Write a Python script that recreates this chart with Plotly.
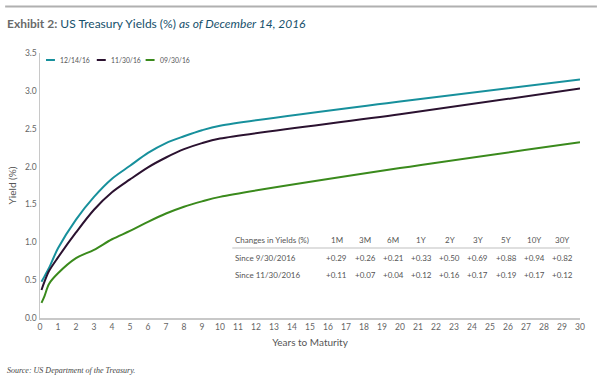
import plotly.graph_objects as go

# ---- data ----
maturity_years = [1/12, 0.25, 0.5, 1, 2, 3, 4, 5, 6, 7, 8, 9, 10, 20, 30]
yields_121416 = [0.48, 0.55, 0.66, 0.92, 1.30, 1.60, 1.84, 2.01, 2.18, 2.31, 2.40, 2.48, 2.54, 2.86, 3.15]
yields_113016 = [0.37, 0.48, 0.62, 0.80, 1.13, 1.43, 1.66, 1.83, 1.99, 2.12, 2.23, 2.31, 2.37, 2.69, 3.03]
yields_093016 = [0.20, 0.29, 0.45, 0.59, 0.79, 0.90, 1.04, 1.15, 1.27, 1.38, 1.47, 1.54, 1.60, 1.98, 2.32]

series_names = ["12/14/16", "11/30/16", "09/30/16"]
series_colors = ["#17909c", "#2b1230", "#3a8a1c"]

table_cols = ["1M", "3M", "6M", "1Y", "2Y", "3Y", "5Y", "10Y", "30Y"]
table_rows = ["Since 9/30/2016", "Since 11/30/2016"]
chg_since_0930 = ["+0.29", "+0.26", "+0.21", "+0.33", "+0.50", "+0.69", "+0.88", "+0.94", "+0.82"]
chg_since_1130 = ["+0.11", "+0.07", "+0.04", "+0.12", "+0.16", "+0.17", "+0.19", "+0.17", "+0.12"]

x_ticks = list(range(0, 31))
y_ticks = [0.0, 0.5, 1.0, 1.5, 2.0, 2.5, 3.0, 3.5]

FONT = "Lato"
W, H = 600, 381
L, R, T, B = 38, 20, 53, 63
pw, ph = W - L - R, H - T - B

def px(x):  # pixel -> paper x
    return (x - L) / pw

def py(y):  # pixel -> paper y
    return (H - B - y) / ph

fig = go.Figure()
for name, vals, col in zip(series_names, [yields_121416, yields_113016, yields_093016], series_colors):
    fig.add_trace(go.Scatter(x=maturity_years, y=vals, name=name, mode="lines",
                             line=dict(color=col, width=2, shape="spline", smoothing=0.9),
                             showlegend=False, hoverinfo="skip"))

shapes = []
annotations = []

# top rule
shapes.append(dict(type="line", xref="paper", yref="paper", x0=px(3), x1=px(597), y0=py(6.5), y1=py(6.5),
                   line=dict(color="#b0b0b0", width=2)))

# title
annotations.append(dict(xref="paper", yref="paper", x=px(3), y=py(23), xanchor="left", yanchor="middle",
                        showarrow=False,
                        text="<span style='color:#6a6a6a'><b>Exhibit 2:</b></span> "
                             "<span style='color:#16506b'>US Treasury Yields (%) <i>as of December 14, 2016</i></span>",
                        font=dict(family=FONT, size=12, color="#16506b")))

# custom legend
leg_x = [44, 95, 144]
for lx, name, col in zip(leg_x, series_names, series_colors):
    shapes.append(dict(type="line", xref="paper", yref="paper", x0=px(lx), x1=px(lx + 9), y0=py(60), y1=py(60),
                       line=dict(color=col, width=2)))
    annotations.append(dict(xref="paper", yref="paper", x=px(lx + 12), y=py(60), xanchor="left", yanchor="middle",
                            showarrow=False, text=name, font=dict(family=FONT, size=6.8, color="#555555")))

# table
col_x0, col_dx = 336, 28.3
row_y = [258, 275]
annotations.append(dict(xref="paper", yref="paper", x=px(232), y=py(240), xanchor="left", yanchor="middle",
                        showarrow=False, text="Changes in Yields (%)", font=dict(family=FONT, size=8, color="#555555")))
for i, c in enumerate(table_cols):
    annotations.append(dict(xref="paper", yref="paper", x=px(col_x0 + i * col_dx), y=py(240), xanchor="center",
                            yanchor="middle", showarrow=False, text=c,
                            font=dict(family=FONT, size=8, color="#555555")))
shapes.append(dict(type="line", xref="paper", yref="paper", x0=px(231), x1=px(570), y0=py(248), y1=py(248),
                   line=dict(color="#d5d5d5", width=1.5)))
for ry, rname, vals in zip(row_y, table_rows, [chg_since_0930, chg_since_1130]):
    annotations.append(dict(xref="paper", yref="paper", x=px(232), y=py(ry), xanchor="left", yanchor="middle",
                            showarrow=False, text=rname, font=dict(family=FONT, size=8, color="#555555")))
    for i, v in enumerate(vals):
        annotations.append(dict(xref="paper", yref="paper", x=px(col_x0 + i * col_dx), y=py(ry), xanchor="center",
                                yanchor="middle", showarrow=False, text=v,
                                font=dict(family=FONT, size=8, color="#555555")))

# source
annotations.append(dict(xref="paper", yref="paper", x=px(3), y=py(370), xanchor="left", yanchor="middle",
                        showarrow=False, text="<i>Source: US Department of the Treasury.</i>",
                        font=dict(family="Liberation Serif", size=8, color="#444444")))

fig.update_layout(
    width=W, height=H,
    margin=dict(l=L, r=R, t=T, b=B),
    paper_bgcolor="white", plot_bgcolor="white",
    font=dict(family=FONT, size=9, color="#666666"),
    shapes=shapes, annotations=annotations,
    hovermode=False,
    xaxis=dict(range=[0, 30], tickvals=x_ticks, ticktext=[str(v) for v in x_ticks],
               showgrid=False, zeroline=False, showline=True, linecolor="#c8c8c8", linewidth=1.5,
               ticks="", tickfont=dict(family=FONT, size=8.5, color="#666666"),
               title=dict(text="Years to Maturity", font=dict(family=FONT, size=10, color="#555555"), standoff=8)),
    yaxis=dict(range=[0, 3.5], tickvals=y_ticks, ticktext=[f"{v:.1f}" for v in y_ticks],
               showgrid=False, zeroline=False, showline=True, linecolor="#c8c8c8", linewidth=1.5,
               ticks="", tickfont=dict(family=FONT, size=8.5, color="#666666"),
               title=dict(text="Yield (%)", font=dict(family=FONT, size=10, color="#555555"), standoff=6)),
)

fig.write_html("out.html", config={"displayModeBar": False, "staticPlot": True},
               post_script="document.body.style.margin='0px';document.body.style.overflow='hidden';")
